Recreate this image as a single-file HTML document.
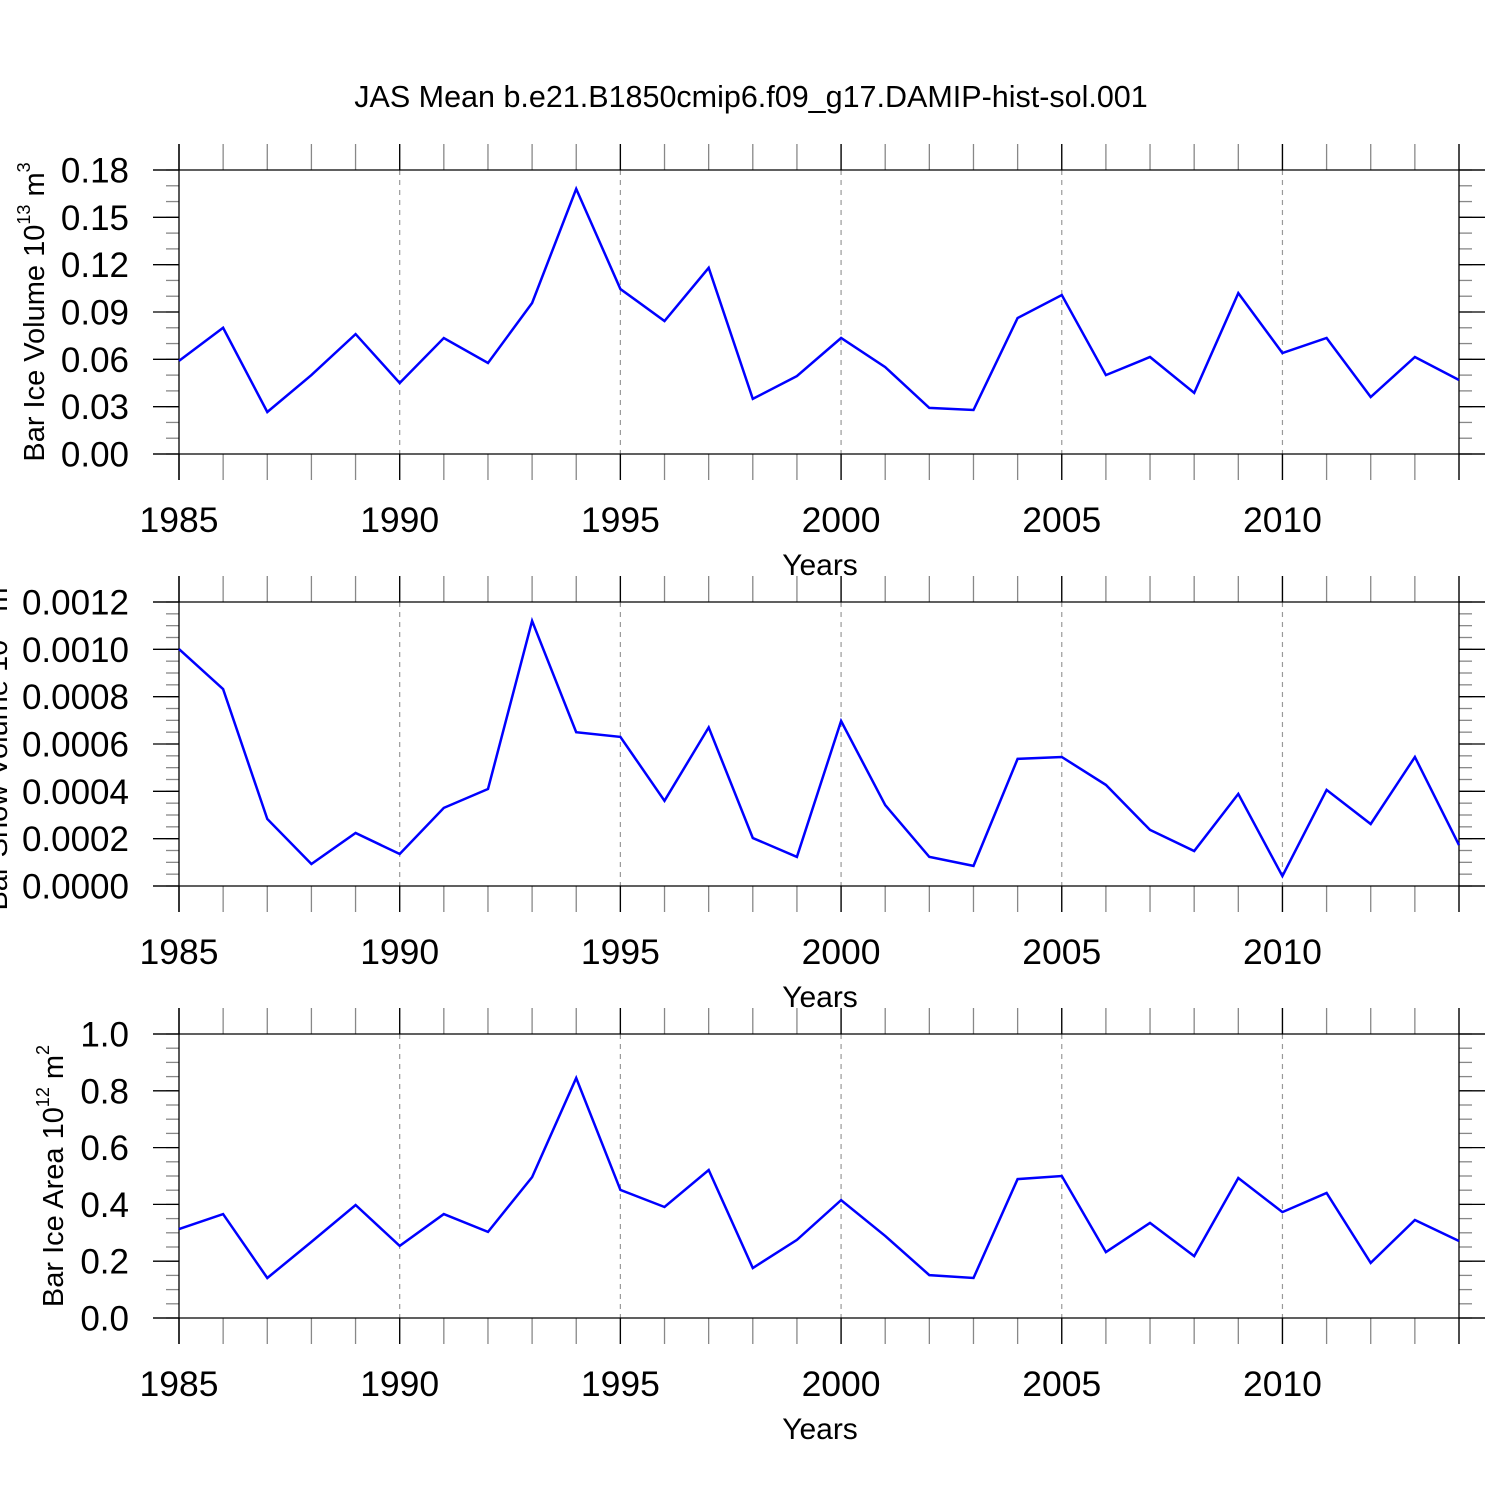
<!DOCTYPE html>
<html><head><meta charset="utf-8"><style>
html,body{margin:0;padding:0;background:#fff;}
svg{display:block;font-family:"Liberation Sans",Helvetica,sans-serif;}
</style></head><body>
<svg id="chart" width="1500" height="1500" viewBox="0 0 1500 1500" xmlns="http://www.w3.org/2000/svg">
<rect width="1500" height="1500" fill="#fff"/>
<text x="751" y="107" font-size="30.5" text-anchor="middle">JAS Mean b.e21.B1850cmip6.f09_g17.DAMIP-hist-sol.001</text>
</svg>
<script>
const years = [1985,1986,1987,1988,1989,1990,1991,1992,1993,1994,1995,1996,1997,1998,1999,2000,2001,2002,2003,2004,2005,2006,2007,2008,2009,2010,2011,2012,2013,2014];
const iceVolume = [0.059,0.080,0.0266,0.050,0.076,0.045,0.0735,0.0577,0.0957,0.168,0.1046,0.0843,0.118,0.0349,0.0494,0.0735,0.0551,0.0292,0.0279,0.0862,0.1008,0.050,0.0615,0.0387,0.102,0.064,0.0735,0.0361,0.0615,0.0469];
const snowVolume = [0.001001,0.000832,0.000283,0.000093,0.000224,0.000135,0.00033,0.00041,0.00112,0.00065,0.00063,0.00036,0.00067,0.000203,0.000123,0.000697,0.000342,0.000123,0.000085,0.000537,0.000545,0.000427,0.000237,0.000148,0.000389,0.000042,0.000406,0.000262,0.000545,0.000173];
const iceArea = [0.313,0.366,0.141,0.268,0.398,0.254,0.366,0.303,0.496,0.845,0.451,0.391,0.521,0.176,0.275,0.415,0.289,0.151,0.141,0.489,0.5,0.232,0.335,0.218,0.493,0.373,0.44,0.194,0.345,0.271];
const xTickLabels = [1985,1990,1995,2000,2005,2010];
const volTicks = ["0.00","0.03","0.06","0.09","0.12","0.15","0.18"];
const snowTicks = ["0.0000","0.0002","0.0004","0.0006","0.0008","0.0010","0.0012"];
const areaTicks = ["0.0","0.2","0.4","0.6","0.8","1.0"];

const NS="http://www.w3.org/2000/svg";
const svg=document.getElementById('chart');
function el(tag,attrs,parent){const e=document.createElementNS(NS,tag);for(const k in attrs)e.setAttribute(k,attrs[k]);(parent||svg).appendChild(e);return e;}
const X0=179,X1=1459;
function xs(yr){return X0+(yr-1985)/(2014-1985)*(X1-X0);}

function panel(name,top,data,ticks,ymax,minorStep,ylabelHtml,labelX){
  const bot=top+284;
  const g=el('g',{});
  
  
  const ys=v=>bot-v/ymax*(bot-top);
  xTickLabels.slice(1).forEach(yr=>{
    const l=el('line',{x1:xs(yr),x2:xs(yr),y1:top,y2:bot,stroke:'#999','stroke-width':1.2,'stroke-dasharray':'5,5'},g);
    
    
  });
  years.forEach(yr=>{
    const x=xs(yr);
    el('line',{x1:x,x2:x,y1:top-26,y2:top,stroke:'#888','stroke-width':1.3},g);
    el('line',{x1:x,x2:x,y1:bot,y2:bot+26,stroke:'#888','stroke-width':1.3},g);
  });
  xTickLabels.forEach(yr=>{
    const x=xs(yr);
    el('line',{x1:x,x2:x,y1:top-26,y2:top,stroke:'#000','stroke-width':1.3},g);
    el('line',{x1:x,x2:x,y1:bot,y2:bot+26,stroke:'#000','stroke-width':1.3},g);
    const t=el('text',{x:x,y:bot+78,'font-size':35.5,'text-anchor':'middle'},g);
    t.textContent=yr;
    
    
  });
  const nMinor=Math.round(ymax/minorStep);
  for(let i=0;i<=nMinor;i++){
    const y=ys(i*minorStep);
    el('line',{x1:X0-13,x2:X0,y1:y,y2:y,stroke:'#888','stroke-width':1.3},g);
    el('line',{x1:X1,x2:X1+13,y1:y,y2:y,stroke:'#888','stroke-width':1.3},g);
  }
  ticks.forEach(lbl=>{
    const y=ys(parseFloat(lbl));
    el('line',{x1:X0-26,x2:X0,y1:y,y2:y,stroke:'#000','stroke-width':1.3},g);
    el('line',{x1:X1,x2:X1+26,y1:y,y2:y,stroke:'#000','stroke-width':1.3},g);
    const t=el('text',{x:129,y:y+12.5,'font-size':35,'text-anchor':'end'},g);
    t.textContent=lbl;
    
    
  });
  el('line',{x1:X0-26,x2:X1+26,y1:top,y2:top,stroke:'#000','stroke-width':1.3},g);
  el('line',{x1:X0-26,x2:X1+26,y1:bot,y2:bot,stroke:'#000','stroke-width':1.3},g);
  el('line',{x1:X0,x2:X0,y1:top-26,y2:bot+26,stroke:'#000','stroke-width':1.3},g);
  el('line',{x1:X1,x2:X1,y1:top-26,y2:bot+26,stroke:'#000','stroke-width':1.3},g);
  const pts=years.map((yr,i)=>xs(yr).toFixed(1)+','+ys(data[i]).toFixed(1)).join(' ');
  const pl=el('polyline',{points:pts,fill:'none',stroke:'#0000ff','stroke-width':2.5,'stroke-linejoin':'miter'},g);
  
  
  const xt=el('text',{x:820,y:bot+121,'font-size':30,'text-anchor':'middle'},g);
  xt.textContent='Years';
  
  
  const cy=(top+bot)/2;
  const yt=el('text',{x:labelX,y:cy,'font-size':29,'text-anchor':'middle',transform:'rotate(-90 '+labelX+' '+cy+')'},g);
  yt.innerHTML=ylabelHtml;
  
  
}
panel('ice-volume',170,iceVolume,volTicks,0.18,0.01,'Bar Ice Volume 10<tspan font-size="18" dy="-14">13</tspan><tspan dy="14"> m</tspan><tspan font-size="18" dy="-14">3</tspan>',44);
panel('snow-volume',602,snowVolume,snowTicks,0.0012,0.00005,'Bar Snow Volume 10<tspan font-size="18" dy="-14">13</tspan><tspan dy="14"> m</tspan><tspan font-size="18" dy="-14">3</tspan>',7);
panel('ice-area',1034,iceArea,areaTicks,1.0,0.05,'Bar Ice Area 10<tspan font-size="18" dy="-14">12</tspan><tspan dy="14"> m</tspan><tspan font-size="18" dy="-14">2</tspan>',63);
</script>
</body></html>
